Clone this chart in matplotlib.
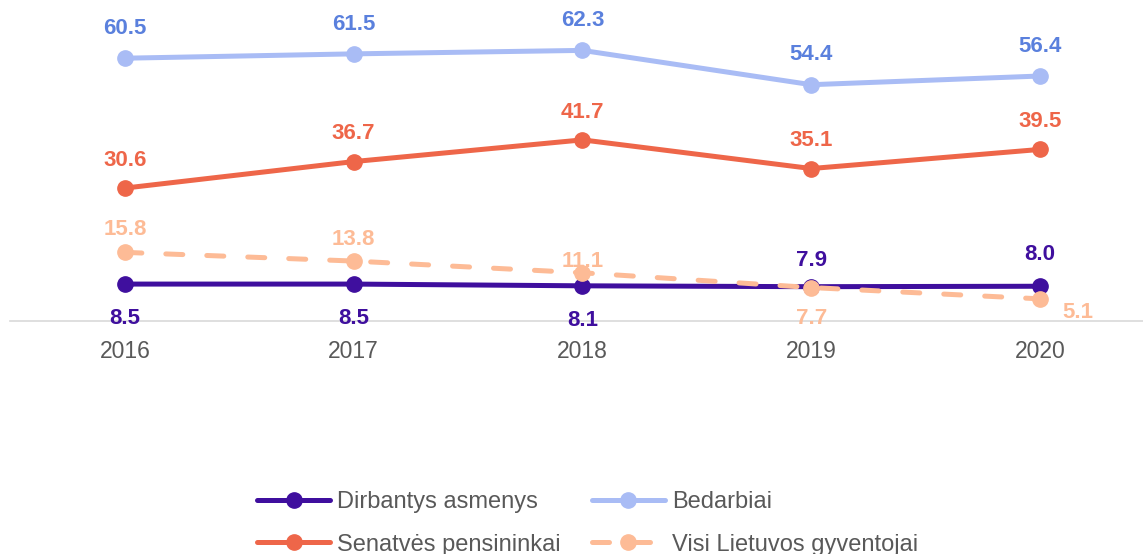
import numpy as np
import matplotlib.pyplot as plt

plt.rcParams['font.family'] = ['Liberation Sans', 'DejaVu Sans']

# %%
years = ["2016", "2017", "2018", "2019", "2020"]
dirbantys = [8.5, 8.5, 8.1, 7.9, 8.0]
bedarbiai = [60.5, 61.5, 62.3, 54.4, 56.4]
senatves = [30.6, 36.7, 41.7, 35.1, 39.5]
visi = [15.8, 13.8, 11.1, 7.7, 5.1]

names = ["Dirbantys asmenys", "Bedarbiai", "Senatvės pensininkai", "Visi Lietuvos gyventojai"]
line_colors = ["#3f0f9e", "#a9bcf5", "#ee6649", "#fdbb96"]
label_colors = ["#3f0f9e", "#5a80dd", "#ee6649", "#fdbb96"]

# label offsets (points) for each value
dirb_off = [(0, -25), (0, -25), (0, -25), (0, 19), (0, 23)]
bed_off = [(0, 21.5), (0, 21.5), (0, 21.5), (0, 21.5), (0, 21.5)]
sen_off = [(0, 20), (0, 20), (0, 20), (0, 20), (0, 20)]
visi_off = [(0, 16.5), (0, 15.5), (0, 8), (0, -22), (27, -10)]

# %%
fig = plt.figure(figsize=(11.43, 5.54), dpi=100)
ax = fig.add_axes([10 / 1143, 233 / 554, 1133 / 1143, 321 / 554])
x = np.arange(len(years))

series = [dirbantys, bedarbiai, senatves, visi]
offsets = [dirb_off, bed_off, sen_off, visi_off]
for i in range(4):
    kw = dict(color=line_colors[i], lw=3.6, marker="o", ms=11, label=names[i],
              solid_capstyle="round")
    if i == 3:
        kw.update(dashes=(3.4, 4.8), dash_capstyle="round")
    ax.plot(x, series[i], zorder=3 + i, **kw)
    for xi, v, off in zip(x, series[i], offsets[i]):
        ax.annotate(f"{v:.1f}", (xi, v), xytext=off, textcoords="offset points",
                    ha="center", va="center", fontsize=16, fontweight="bold",
                    color=label_colors[i])

ax.set_xlim(-0.502, 4.45)
ax.set_ylim(0, 73.9)
ax.set_xticks(x)
ax.set_xticklabels(years, fontsize=16.5, color="#595959")
ax.tick_params(axis="x", length=0, pad=14)
ax.set_yticks([])
for s in ["top", "right", "left"]:
    ax.spines[s].set_visible(False)
ax.spines["bottom"].set_color("#d9d9d9")
ax.spines["bottom"].set_linewidth(1.2)

# legend is filled column by column, so reorder to get rows as in the reference
handles, labels = ax.get_legend_handles_labels()
hmap = dict(zip(labels, handles))
leg_order = [names[0], names[2], names[1], names[3]]
leg = fig.legend([hmap[n] for n in leg_order], leg_order, loc="center", ncol=2,
                 bbox_to_anchor=(0.514, 0.055), frameon=False, fontsize=17,
                 handlelength=3.1, handletextpad=0.3, columnspacing=1.3,
                 labelspacing=0.85, labelcolor="#595959")

fig.savefig("out.png", dpi=100)
